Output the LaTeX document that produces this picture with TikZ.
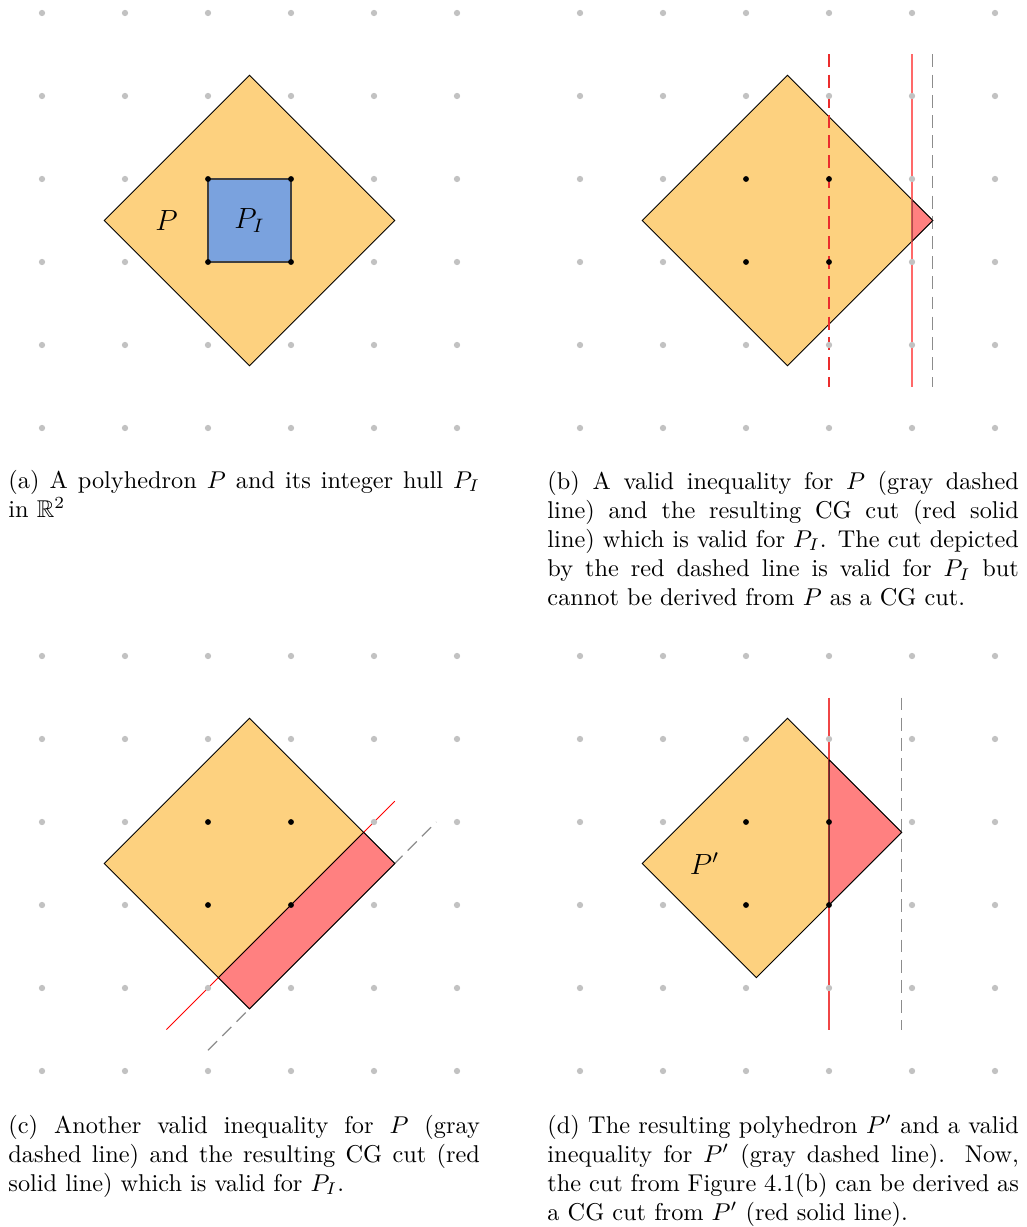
\documentclass[tikz,border=0pt]{standalone}
\usepackage{amssymb}
\definecolor{polyorange}{RGB}{253,209,127}
\definecolor{hullblue}{RGB}{122,162,222}
\definecolor{cutred}{RGB}{255,128,128}
\definecolor{gridgray}{RGB}{194,194,194}
\definecolor{dashgray}{RGB}{140,140,140}
\definecolor{softred}{RGB}{255,105,105}
\definecolor{midred}{RGB}{240,70,70}
\definecolor{dashred}{RGB}{235,45,45}
\tikzset{
  gdot/.style={fill=gridgray},
  ldot/.style={fill=black},
  poly/.style={fill=polyorange, draw=black, line width=0.4pt, line join=miter},
  hull/.style={fill=hullblue, draw=black!75, line width=0.5pt},
  cutregion/.style={fill=cutred, draw=black, line width=0.4pt},
  ineq/.style={draw=dashgray, line width=0.55pt, dash pattern=on 5.3pt off 3pt},
  cgcutdash/.style={draw=dashred, line width=0.45pt, dash pattern=on 5.3pt off 3pt},
  cgcutb/.style={draw=softred, line width=0.8pt},
  cgcutc/.style={draw=red, line width=0.4pt},
  cgcutd/.style={draw=midred, line width=0.55pt},
  lbl/.style={font=\large, inner sep=0pt},
  capt/.style={text width=194pt, align=justify, inner sep=0pt, anchor=base west, font=\normalsize},
  panel/.style={x=34.156pt, y=-34.156pt}
}
\newcommand\mygriddots{%
  \foreach \i in {0,...,5}{\foreach \j in {0,...,5}{%
    \pgfmathtruncatemacro\inner{and(or(\i==2,\i==3),or(\j==2,\j==3))}%
    \ifnum\inner=0 \fill[gdot] (\i,\j) circle (1.3pt);\fi
  }}%
}
\newcommand\myinnerdots{%
  \foreach \i in {2,3}{\foreach \j in {2,3}{\fill[ldot] (\i,\j) circle (1.2pt);}}%
}
\begin{document}
\begin{tikzpicture}[x=0.41152pt, y=-0.41152pt]
\useasboundingbox (0,0) rectangle (1026,1227);

% ---------------- (a)
\begin{scope}[shift={(42,13)}, panel]
  \filldraw[poly] (2.5,0.75) -- (4.25,2.5) -- (2.5,4.25) -- (0.75,2.5) -- cycle;
  \filldraw[hull] (2,2) rectangle (3,3);
  \myinnerdots
  \mygriddots
  \node[lbl] (pa) at (1.5,2.5) {$P$};
  \node[lbl] (pia) at (2.5,2.5) {$P_I$};
\end{scope}

% ---------------- (b)
\begin{scope}[shift={(580,13)}, panel]
  \filldraw[poly] (2.5,0.75) -- (4.25,2.5) -- (2.5,4.25) -- (0.75,2.5) -- cycle;
  \draw[cgcutdash] (3,0.5) -- (3,4.5);
  \draw[cgcutb] (4,0.5) -- (4,4.5);
  \draw[ineq] (4.25,0.5) -- (4.25,4.5);
  \filldraw[cutregion] (4,2.25) -- (4.25,2.5) -- (4,2.75) -- cycle;
  \draw[softred, line width=0.5pt, opacity=0.5] (4,2.25) -- (4,2.75);
  \myinnerdots
  \mygriddots
\end{scope}

% ---------------- (c)
\begin{scope}[shift={(42,656)}, panel]
  \filldraw[poly] (2.5,0.75) -- (4.25,2.5) -- (2.5,4.25) -- (0.75,2.5) -- cycle;
  \draw[ineq] (2,4.75) -- (4.75,2);
  \draw[cgcutc] (1.5,4.5) -- (4.25,1.75);
  \filldraw[cutregion] (3.875,2.125) -- (4.25,2.5) -- (2.5,4.25) -- (2.125,3.875) -- cycle;
  \myinnerdots
  \mygriddots
\end{scope}

% ---------------- (d)
\begin{scope}[shift={(580,656)}, panel]
  \filldraw[poly] (2.5,0.75) -- (3.875,2.125) -- (2.125,3.875) -- (0.75,2.5) -- cycle;
  \draw[cgcutd] (3,0.5) -- (3,4.5);
  \draw[ineq] (3.875,0.5) -- (3.875,4.5);
  \filldraw[cutregion] (3,1.25) -- (3.875,2.125) -- (3,3) -- cycle;
  \myinnerdots
  \mygriddots
  \node[lbl] (pd) at (1.5,2.5) {$P'$};
\end{scope}

% ---------------- captions
\node[capt] (capa) at (8,488) {(a) A polyhedron $P$ and its integer hull $P_I$\linebreak in $\mathbb{R}^2$};
\node[capt] (capb) at (547,489) {(b) A valid inequality for $P$ (gray dashed\linebreak line) and the resulting CG cut (red solid\linebreak line) which is valid for $P_I$. The cut depicted\linebreak by the red dashed line is valid for $P_I$ but\linebreak cannot be derived from $P$ as a CG cut.};
\node[capt] (capc) at (8,1133) {(c) Another valid inequality for $P$ (gray\linebreak dashed line) and the resulting CG cut (red\linebreak solid line) which is valid for $P_I$.};
\node[capt] (capd) at (547,1133) {(d) The resulting polyhedron $P'$ and a valid\linebreak inequality for $P'$ (gray dashed line). Now,\linebreak the cut from Figure 4.1(b) can be derived as\linebreak a CG cut from $P'$ (red solid line).};
\end{tikzpicture}
\end{document}
